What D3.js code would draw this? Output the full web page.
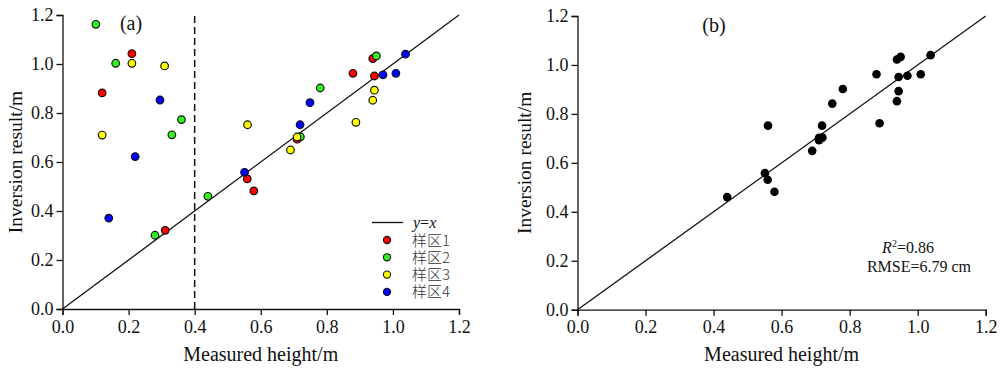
<!DOCTYPE html>
<html>
<head>
<meta charset="utf-8">
<script src="https://cdn.jsdelivr.net/npm/d3@7/dist/d3.min.js"></script>
<style>
  html, body { margin: 0; padding: 0; background: #fff; }
  svg { display: block; }
</style>
</head>
<body>
<svg id="chart" width="1000" height="369"></svg>
<script>
// ---- data (measured height / inversion result, metres) ----
const zone1X = [0.210, 0.120, 0.311, 0.559, 0.579, 0.710, 0.879, 0.944, 0.939];
const zone1Y = [1.042, 0.882, 0.321, 0.531, 0.482, 0.693, 0.962, 0.951, 1.022];
const zone2X = [0.101, 0.161, 0.360, 0.331, 0.280, 0.440, 0.720, 0.780, 0.950];
const zone2Y = [1.162, 1.003, 0.773, 0.711, 0.301, 0.460, 0.703, 0.902, 1.033];
const zone3X = [0.210, 0.309, 0.120, 0.560, 0.690, 0.710, 0.888, 0.939, 0.944];
const zone3Y = [1.003, 0.992, 0.710, 0.752, 0.649, 0.702, 0.762, 0.852, 0.893];
const zone4X = [0.295, 0.220, 0.140, 0.551, 0.719, 0.749, 0.970, 1.009, 1.038];
const zone4Y = [0.853, 0.622, 0.371, 0.558, 0.752, 0.842, 0.956, 0.962, 1.040];
const zoneNames = ["样区1", "样区2", "样区3", "样区4"];
const zoneColors = ["#ff0000", "#33f022", "#ffff00", "#0000ff"];
const axisTicks = [0.0, 0.2, 0.4, 0.6, 0.8, 1.0, 1.2];
const thresholdX = 0.4;
const statsR2 = "0.86";
const statsRMSE = "6.79 cm";

const zones = [
  {x: zone1X, y: zone1Y}, {x: zone2X, y: zone2Y},
  {x: zone3X, y: zone3Y}, {x: zone4X, y: zone4Y}
].map((z, i) => ({name: zoneNames[i], color: zoneColors[i],
  pts: z.x.map((v, j) => ({x: v, y: z.y[j]}))}));

const svg = d3.select("#chart");
const serif = "'Liberation Serif', 'Times New Roman', serif";

function panel(x0, x1, y0, y1) {
  const x = d3.scaleLinear().domain([0, 1.2]).range([x0, x1]);
  const y = d3.scaleLinear().domain([0, 1.2]).range([y1, y0]);
  const g = svg.append("g");
  const xa = g.append("g").attr("transform", `translate(0,${y1})`)
    .call(d3.axisBottom(x).tickValues(axisTicks).tickFormat(d3.format(".1f")).tickSizeOuter(0).tickSize(6).tickPadding(5));
  const ya = g.append("g").attr("transform", `translate(${x0},0)`)
    .call(d3.axisLeft(y).tickValues(axisTicks).tickFormat(d3.format(".1f")).tickSizeOuter(0).tickSize(6).tickPadding(3));
  [xa, ya].forEach(a => {
    a.selectAll("text").attr("font-family", serif).attr("font-size", 18).attr("fill", "#111");
    a.selectAll("line").attr("stroke", "#111").attr("stroke-width", 1.3);
    a.select(".domain").attr("stroke", "#111").attr("stroke-width", 1.3);
  });
  g.append("text").attr("x", (x0 + x1) / 2).attr("y", 361)
    .attr("text-anchor", "middle").attr("font-family", serif).attr("font-size", 20)
    .attr("fill", "#111").text("Measured height/m");
  // 1:1 line
  g.append("line").attr("x1", x(0)).attr("y1", y(0)).attr("x2", x(1.2)).attr("y2", y(1.2))
    .attr("stroke", "#111").attr("stroke-width", 1.3);
  return {g, x, y};
}

// ---- panel (a) ----
const A = panel(62.5, 459, 15, 309);
A.g.append("text").attr("transform", `translate(22,${(15 + 309) / 2}) rotate(-90)`)
  .attr("text-anchor", "middle").attr("font-family", serif).attr("font-size", 19.5)
  .attr("fill", "#111").text("Inversion result/m");
A.g.append("line").attr("x1", A.x(thresholdX)).attr("x2", A.x(thresholdX))
  .attr("y1", A.y(0)).attr("y2", A.y(1.2))
  .attr("stroke", "#111").attr("stroke-width", 1.5).attr("stroke-dasharray", "7,4");
A.g.append("text").attr("x", 131).attr("y", 30).attr("text-anchor", "middle")
  .attr("font-family", serif).attr("font-size", 20).attr("fill", "#111").text("(a)");
zones.forEach(z => {
  A.g.selectAll(null).data(z.pts).enter().append("circle")
    .attr("cx", d => A.x(d.x)).attr("cy", d => A.y(d.y)).attr("r", 3.8)
    .attr("fill", z.color).attr("stroke", "#111").attr("stroke-width", 1.2);
});
// legend
const lg = A.g.append("g");
lg.append("line").attr("x1", 372).attr("x2", 403).attr("y1", 222.5).attr("y2", 222.5)
  .attr("stroke", "#111").attr("stroke-width", 1.3);
const yx = lg.append("text").attr("x", 413).attr("y", 228).attr("font-family", serif)
  .attr("font-size", 16).attr("font-style", "italic").attr("fill", "#111");
yx.append("tspan").text("y");
yx.append("tspan").attr("font-style", "normal").text("=");
yx.append("tspan").text("x");
zones.forEach((z, i) => {
  const yy = 240 + i * 17.3;
  lg.append("circle").attr("cx", 387).attr("cy", yy).attr("r", 3.6)
    .attr("fill", z.color).attr("stroke", "#111").attr("stroke-width", 1.1);
  lg.append("text").attr("x", 412).attr("y", yy + 5.5).attr("font-family", "'Noto Sans CJK SC', sans-serif")
    .attr("font-size", 15).attr("font-weight", 300).attr("fill", "#333").text(z.name);
});

// ---- panel (b) ----
const B = panel(577.5, 985.7, 16, 309.7);
B.g.append("text").attr("transform", `translate(531,${(16 + 309.7) / 2}) rotate(-90)`)
  .attr("text-anchor", "middle").attr("font-family", serif).attr("font-size", 19.5)
  .attr("fill", "#111").text("Inversion result/m");
B.g.append("text").attr("x", 714).attr("y", 32).attr("text-anchor", "middle")
  .attr("font-family", serif).attr("font-size", 20).attr("fill", "#111").text("(b)");
const bPts = zones.flatMap(z => z.pts).filter(d => d.x > thresholdX);
B.g.selectAll(null).data(bPts).enter().append("circle")
  .attr("cx", d => B.x(d.x)).attr("cy", d => B.y(d.y)).attr("r", 4.3).attr("fill", "#000");
const r2 = B.g.append("text").attr("x", 908).attr("y", 253).attr("text-anchor", "middle")
  .attr("font-family", serif).attr("font-size", 16).attr("fill", "#111");
r2.append("tspan").attr("font-style", "italic").text("R");
r2.append("tspan").attr("font-size", 10).attr("dy", -6).text("2");
r2.append("tspan").attr("dy", 6).text("=" + statsR2);
B.g.append("text").attr("x", 919).attr("y", 272).attr("text-anchor", "middle")
  .attr("font-family", serif).attr("font-size", 16).attr("fill", "#111").text("RMSE=" + statsRMSE);
</script>
</body>
</html>
